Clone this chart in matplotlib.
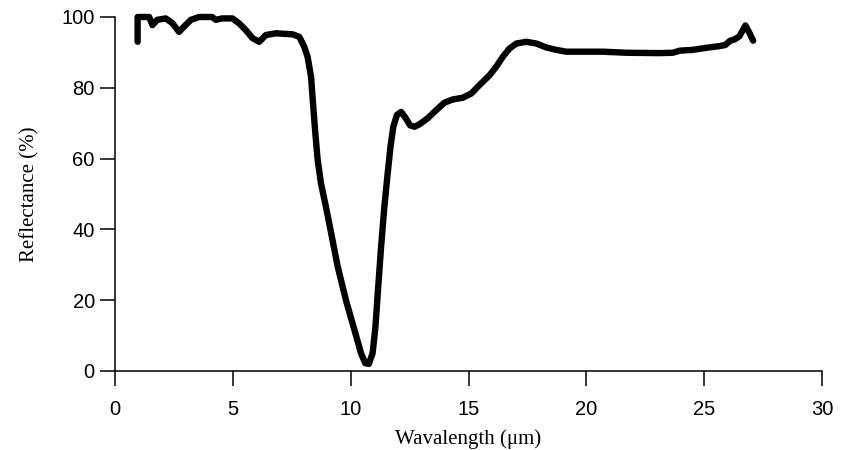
import matplotlib.pyplot as plt

# wavelength (um) and reflectance (%)
wavelength = [0.96, 0.96, 1.2, 1.45, 1.59, 1.79, 2.15, 2.43, 2.72, 2.93, 3.22,
              3.57, 4.12, 4.28, 4.55, 4.98, 5.27, 5.55, 5.84, 6.12, 6.4, 6.83,
              7.54, 7.82, 8.03, 8.17, 8.32, 8.39, 8.5, 8.6, 8.74, 8.95, 9.17,
              9.45, 9.8, 10.16, 10.44, 10.62, 10.77, 10.93, 11.05, 11.15, 11.29,
              11.43, 11.57, 11.69, 11.81, 11.96, 12.14, 12.32, 12.52, 12.71,
              12.92, 13.27, 13.63, 13.98, 14.33, 14.76, 15.12, 15.47, 15.9,
              16.18, 16.46, 16.74, 17.03, 17.45, 17.88, 18.3, 18.73, 19.15,
              20.0, 20.7, 21.7, 23.1, 23.67, 23.97, 24.5, 25.1, 25.67, 25.9,
              26.1, 26.3, 26.5, 26.75, 26.9, 27.08]
reflectance = [93.0, 100, 100, 100, 97.7, 99.2, 99.6, 98.3, 95.8, 97.3, 99.2,
               100, 100, 99.2, 99.6, 99.6, 98.2, 96.3, 94.0, 93.0, 94.9, 95.4,
               95.1, 94.4, 91.6, 88.8, 83.1, 76.6, 67.2, 59.6, 53.0, 46.4, 39.0,
               29.5, 20.0, 11.6, 5.0, 2.2, 2.0, 5.0, 12.4, 22.0, 35.0,
               46.4, 55.8, 63.4, 69.0, 72.3, 73.2, 71.6, 69.4, 69.0,
               69.7, 71.4, 73.7, 75.8, 76.7, 77.2, 78.4, 80.8, 83.6,
               86.0, 88.8, 91.1, 92.5, 93.0, 92.5, 91.4, 90.7, 90.2,
               90.2, 90.2, 89.9, 89.8, 89.9, 90.5, 90.7, 91.3, 91.8, 92.1,
               93.3, 93.7, 94.6, 97.6, 95.8, 93.3]

fig = plt.figure(figsize=(8.49, 4.5), dpi=100)
ax = fig.add_axes([115/849, 79/450, 707/849, 354/450])

ax.plot(wavelength, reflectance, color='black', lw=4.6, solid_capstyle='round',
        solid_joinstyle='round', clip_on=False)

ax.set_xlim(0, 30)
ax.set_ylim(0, 100)
ax.set_xticks([0, 5, 10, 15, 20, 25, 30])
ax.set_yticks([0, 20, 40, 60, 80, 100])
for s in ['top', 'right']:
    ax.spines[s].set_visible(False)
for s in ['left', 'bottom']:
    ax.spines[s].set_linewidth(1.1)
ax.tick_params(axis='both', direction='out', length=11, width=1.1,
               labelsize=14.5)
ax.tick_params(axis='x', pad=10)
ax.tick_params(axis='y', pad=3.5)
for lab in ax.get_xticklabels() + ax.get_yticklabels():
    lab.set_family('Liberation Sans')

ax.set_xlabel('Wavalength (μm)', family='Liberation Serif', fontsize=15, labelpad=7)
ax.set_ylabel('Reflectance (%)', family='Liberation Serif', fontsize=15, labelpad=16)

fig.savefig('out.png', dpi=100)
